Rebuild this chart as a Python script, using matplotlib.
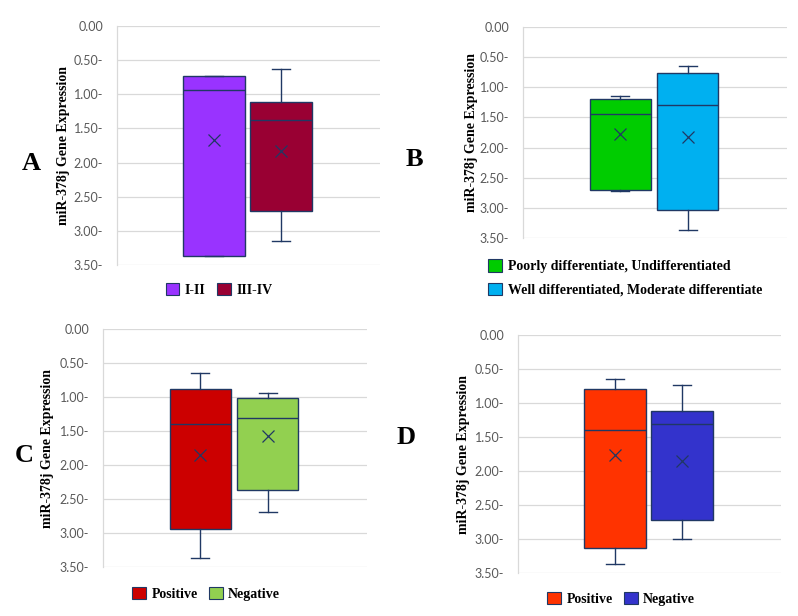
import matplotlib.pyplot as plt
from matplotlib.patches import Patch

# panel data: q1, median, q3, whisker low, whisker high, mean (y axis inverted)
a_labels = ['I-II', 'III-IV']
a_q1 = [0.73, 1.12]
a_med = [0.93, 1.38]
a_q3 = [3.37, 2.71]
a_lo = [0.73, 0.63]
a_hi = [3.37, 3.15]
a_mean = [1.67, 1.83]
a_colors = ['#9933FF', '#990033']

b_labels = ['Poorly differentiate, Undifferentiated', 'Well differentiated, Moderate differentiate']
b_q1 = [1.20, 0.77]
b_med = [1.44, 1.29]
b_q3 = [2.71, 3.03]
b_lo = [1.14, 0.64]
b_hi = [2.72, 3.37]
b_mean = [1.78, 1.82]
b_colors = ['#00CC00', '#00B0F0']

c_labels = ['Positive', 'Negative']
c_q1 = [0.88, 1.01]
c_med = [1.40, 1.31]
c_q3 = [2.94, 2.37]
c_lo = [0.64, 0.94]
c_hi = [3.37, 2.69]
c_mean = [1.86, 1.57]
c_colors = ['#CC0000', '#92D050']

d_labels = ['Positive', 'Negative']
d_q1 = [0.79, 1.12]
d_med = [1.39, 1.31]
d_q3 = [3.13, 2.72]
d_lo = [0.64, 0.73]
d_hi = [3.37, 3.00]
d_mean = [1.76, 1.85]
d_colors = ['#FF3300', '#3333CC']

yticks = [0, 0.5, 1.0, 1.5, 2.0, 2.5, 3.0, 3.5]
ytick_labels = ['0.00', '0.50-', '1.00-', '1.50-', '2.00-', '2.50-', '3.00-', '3.50-']
ylabel = 'miR-378j Gene Expression'

edge = '#203864'
serif = 'Liberation Serif'
W, H = 798, 616

fig = plt.figure(figsize=(W / 100, H / 100), dpi=100)


def panel(box, letter, letter_xy, ylab_x, labels, q1, med, q3, lo, hi, mean, colors, leg_xy, ncol):
    l, t, r, b = box
    ax = fig.add_axes([l / W, 1 - b / H, (r - l) / W, (b - t) / H])
    stats = []
    for i in range(len(labels)):
        stats.append(dict(q1=q1[i], med=med[i], q3=q3[i], whislo=lo[i], whishi=hi[i],
                          mean=mean[i], label=labels[i]))
    bp = ax.bxp(stats, positions=[0, 1], widths=0.92, showfliers=False, showmeans=True,
                patch_artist=True, capwidths=0.27,
                boxprops=dict(edgecolor=edge, linewidth=1.0),
                medianprops=dict(color=edge, linewidth=1.0),
                whiskerprops=dict(color=edge, linewidth=1.0),
                capprops=dict(color=edge, linewidth=1.0),
                meanprops=dict(marker='x', markeredgecolor=edge, markersize=9, markeredgewidth=0.9))
    for p, c in zip(bp['boxes'], colors):
        p.set_facecolor(c)
    ax.set_xlim(-1.45, 2.48)
    ax.set_ylim(3.5, 0)
    ax.set_yticks(yticks)
    ax.set_yticklabels(ytick_labels, fontsize=9, color='#595959', family='Lato')
    ax.set_xticks([])
    ax.tick_params(axis='y', length=0, pad=10)
    ax.grid(axis='y', color='#D9D9D9', linewidth=0.9)
    ax.set_axisbelow(True)
    for s in ['top', 'right', 'bottom']:
        ax.spines[s].set_visible(False)
    ax.spines['left'].set_color('#D9D9D9')
    ax.spines['left'].set_linewidth(0.9)
    fig.text(ylab_x / W, 1 - (t + b) / 2 / H, ylabel, rotation=90, ha='center', va='center',
             fontsize=10, fontweight='bold', family=serif)
    fig.text(letter_xy[0] / W, 1 - letter_xy[1] / H, letter, ha='center', va='center',
             fontsize=19, fontweight='bold', family=serif)
    handles = [Patch(facecolor=c, edgecolor=edge, linewidth=0.8) for c in colors]
    ax.legend(handles, labels, loc='center', ncol=ncol, frameon=False,
              bbox_to_anchor=((leg_xy[0] - l) / (r - l), 1 - (leg_xy[1] - t) / (b - t)),
              prop=dict(family=serif, weight='bold', size=10),
              handlelength=1.0, handleheight=1.0, handletextpad=0.4,
              columnspacing=0.8, labelspacing=0.7)
    return ax


panel((117, 26, 380, 265), 'A', (31, 163), 63, a_labels, a_q1, a_med, a_q3, a_lo, a_hi, a_mean,
      a_colors, (219, 290), 2)
panel((523, 27, 787, 238), 'B', (414, 160), 472, b_labels, b_q1, b_med, b_q3, b_lo, b_hi, b_mean,
      b_colors, (625, 278), 1)
panel((103, 329, 367, 567), 'C', (24, 455), 48, c_labels, c_q1, c_med, c_q3, c_lo, c_hi, c_mean,
      c_colors, (206, 594), 2)
panel((518, 335, 781, 573), 'D', (406, 438), 463, d_labels, d_q1, d_med, d_q3, d_lo, d_hi, d_mean,
      d_colors, (621, 599), 2)

fig.savefig('out.png', dpi=100)
